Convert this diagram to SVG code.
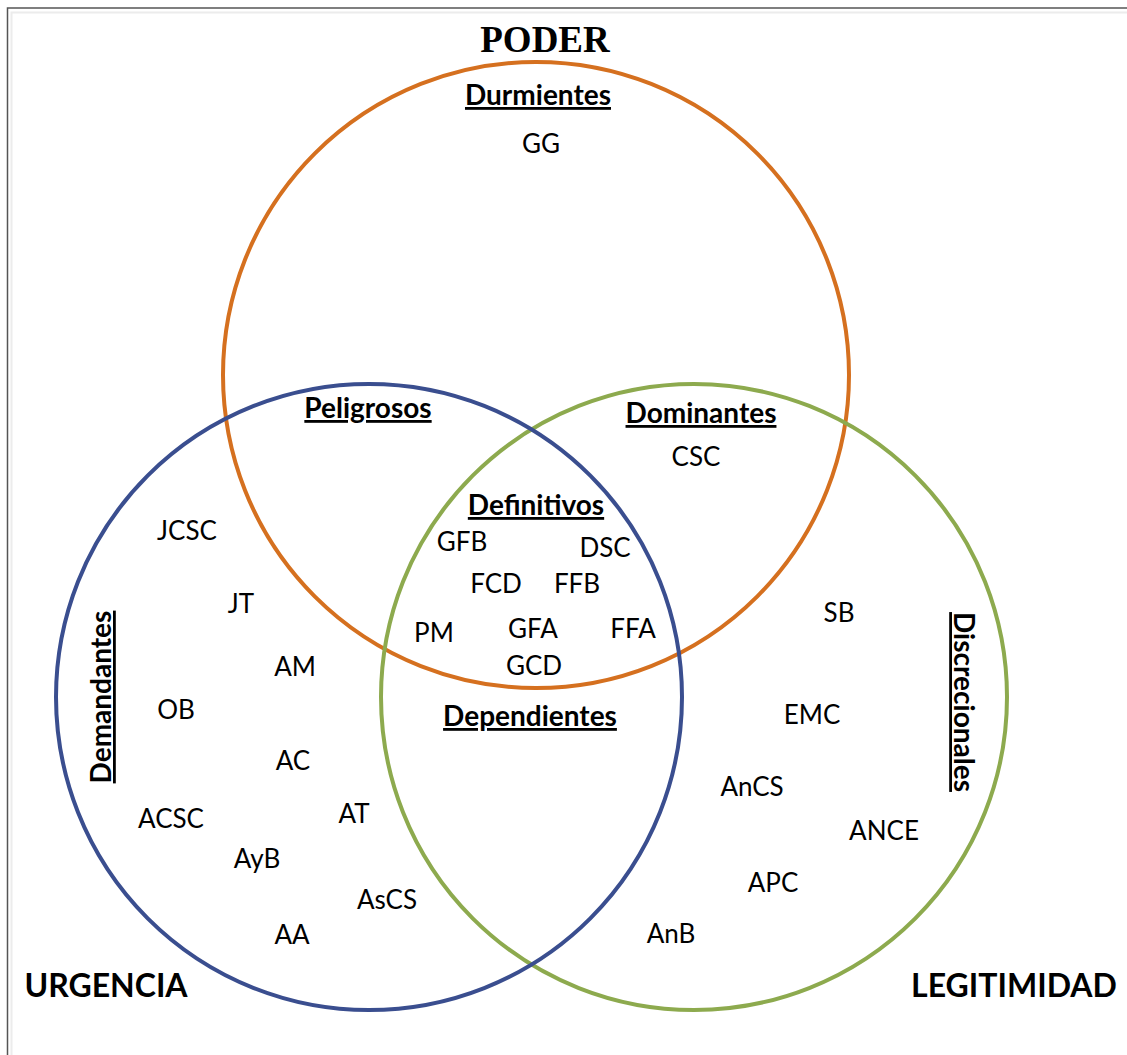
<svg xmlns="http://www.w3.org/2000/svg" width="1127" height="1055" viewBox="0 0 1127 1055">
  <style>
    .ring { fill: none; stroke-width: 4; }
    .lbl { font-family: Lato, "Open Sans", "Liberation Sans", sans-serif; font-size: 26px; fill: #000; text-anchor: middle; }
    .sec { font-family: Lato, "Open Sans", "Liberation Sans", sans-serif; font-size: 28px; font-weight: bold; fill: #000; text-anchor: middle; text-decoration: underline; }
    .axis { font-family: Lato, "Open Sans", "Liberation Sans", sans-serif; font-size: 32px; font-weight: bold; fill: #000; text-anchor: middle; }
    .title { font-family: "Liberation Serif", "Times New Roman", serif; font-size: 37px; font-weight: bold; fill: #000; text-anchor: middle; }
  </style>

  <rect x="0" y="0" width="1127" height="1055" fill="#ffffff"/>
  <!-- frame -->
  <rect x="7.5" y="8" width="1130" height="1060" fill="none" stroke="#555555" stroke-width="1.5"/>
  <rect x="11.5" y="12.5" width="1130" height="1060" fill="none" stroke="#ececec" stroke-width="2"/>

  <!-- three overlapping sets -->
  <g id="connectors">
    <circle id="poder-ring" class="ring" cx="536" cy="375" r="313" stroke="#D5701F"/>
    <circle id="legitimidad-ring" class="ring" cx="694" cy="697" r="313" stroke="#8DAA4E"/>
    <circle id="urgencia-ring" class="ring" cx="369" cy="697" r="313" stroke="#3A4E8F"/>
  </g>

  <!-- set titles -->
  <g id="poder"><text class="title" x="545" y="52">PODER</text></g>
  <g id="urgencia"><text class="axis" x="106" y="997">URGENCIA</text></g>
  <g id="legitimidad"><text class="axis" x="1014" y="997">LEGITIMIDAD</text></g>

  <!-- region names -->
  <g id="durmientes"><text class="sec" x="538" y="105">Durmientes</text><text class="lbl" x="541" y="153">GG</text></g>
  <g id="peligrosos"><text class="sec" x="368" y="418">Peligrosos</text></g>
  <g id="dominantes"><text class="sec" x="701" y="423">Dominantes</text><text class="lbl" x="696" y="466">CSC</text></g>
  <g id="definitivos">
    <text class="sec" x="536" y="515">Definitivos</text>
    <text class="lbl" x="462" y="551">GFB</text>
    <text class="lbl" x="605" y="557">DSC</text>
    <text class="lbl" x="496" y="593">FCD</text>
    <text class="lbl" x="577" y="593">FFB</text>
    <text class="lbl" x="434" y="642">PM</text>
    <text class="lbl" x="533" y="638">GFA</text>
    <text class="lbl" x="633" y="638">FFA</text>
    <text class="lbl" x="534" y="675">GCD</text>
  </g>
  <g id="dependientes"><text class="sec" x="530" y="726">Dependientes</text></g>

  <g id="demandantes">
    <text class="sec" transform="translate(111 697) rotate(-90)">Demandantes</text>
    <text class="lbl" x="187" y="540">JCSC</text>
    <text class="lbl" x="241" y="613">JT</text>
    <text class="lbl" x="295" y="676">AM</text>
    <text class="lbl" x="176" y="719">OB</text>
    <text class="lbl" x="293" y="770">AC</text>
    <text class="lbl" x="171" y="828">ACSC</text>
    <text class="lbl" x="354" y="823">AT</text>
    <text class="lbl" x="257" y="868">AyB</text>
    <text class="lbl" x="387" y="909">AsCS</text>
    <text class="lbl" x="292" y="944">AA</text>
  </g>

  <g id="discrecionales">
    <text class="sec" transform="translate(954 702) rotate(90)">Discrecionales</text>
    <text class="lbl" x="839" y="622">SB</text>
    <text class="lbl" x="812" y="724">EMC</text>
    <text class="lbl" x="752" y="796">AnCS</text>
    <text class="lbl" x="884" y="840">ANCE</text>
    <text class="lbl" x="773" y="892">APC</text>
    <text class="lbl" x="671" y="943">AnB</text>
  </g>
</svg>
